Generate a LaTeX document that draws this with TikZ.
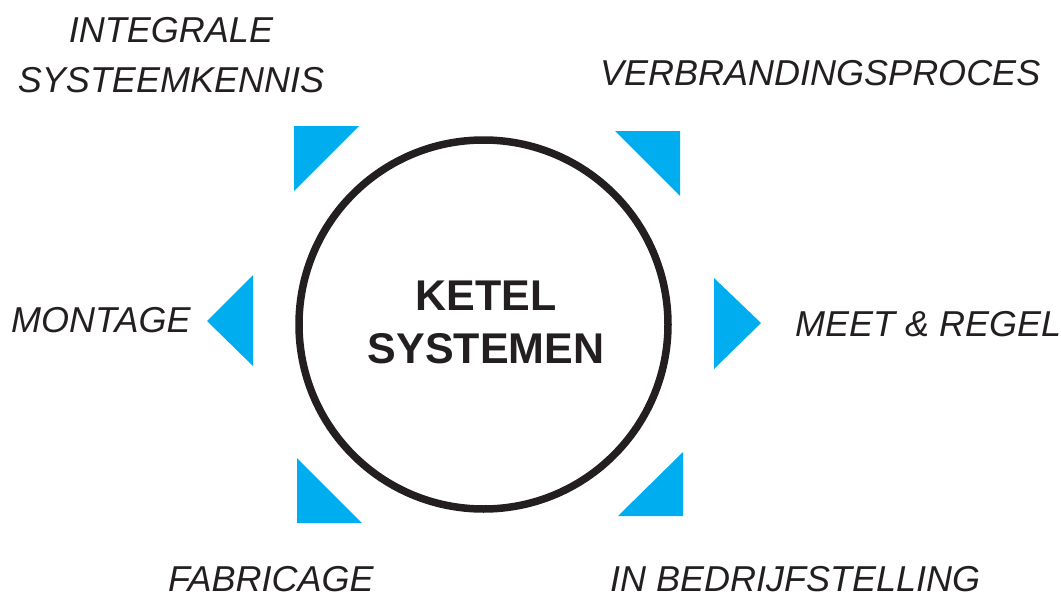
\documentclass[tikz,border=0pt]{standalone}
\usepackage{fontspec}
\setmainfont{Liberation Sans}
\definecolor{ketelblue}{HTML}{00AEEF}
\definecolor{ketelink}{HTML}{231F20}
\tikzset{
 label/.style={font=\fontsize{36}{50}\selectfont\itshape,text=ketelink,inner sep=0pt},
 core/.style={font=\fontsize{43}{53}\selectfont\bfseries,text=ketelink,inner sep=0pt,align=center},
 wedge/.style={fill=ketelblue,draw=none}
}
\begin{document}
\begin{tikzpicture}[x=1pt,y=-1pt]
 \useasboundingbox (0,0) rectangle (1061,597);
 \draw[ketelink,line width=7.5pt](483.5,324.5) circle (184.5);
 \node[core,anchor=base] (ketel) at (486,363) {KETEL\\SYSTEMEN};
 \fill[wedge](294,126)--(359,126)--(294,191)--cycle;
 \fill[wedge](615,131)--(680,131)--(680,196)--cycle;
 \fill[wedge](253,275)--(253,366)--(207,321)--cycle;
 \fill[wedge](714,278)--(714,369)--(761,323)--cycle;
 \fill[wedge](297,458)--(297,523)--(362,523)--cycle;
 \fill[wedge](683,452)--(683,516)--(618,516)--cycle;
 \node[label,anchor=base,align=center] (kennis) at (171,92) {INTEGRALE\\SYSTEEMKENNIS};
 \node[label,anchor=base west] (proces) at (600,85) {VERBRANDINGSPROCES};
 \node[label,anchor=base west] (montage) at (11,332) {MONTAGE};
 \node[label,anchor=base west] (regel) at (795,336) {MEET \& REGEL};
 \node[label,anchor=base west] (fabricage) at (168,591) {FABRICAGE};
 \node[label,anchor=base west] (bedrijf) at (610,591) {IN BEDRIJFSTELLING};
\end{tikzpicture}
\end{document}
